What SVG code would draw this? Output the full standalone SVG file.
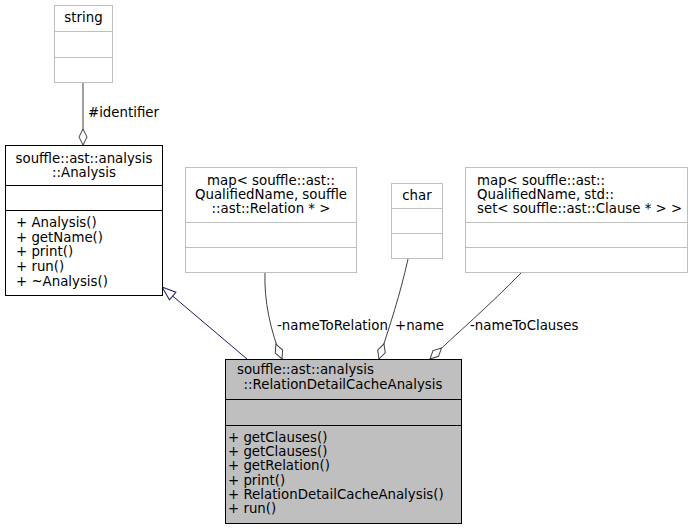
<svg xmlns="http://www.w3.org/2000/svg" width="693" height="529" viewBox="0 0 693 529">
<defs>
<marker id="agg" markerWidth="18" markerHeight="10" refX="17" refY="5" orient="auto" markerUnits="userSpaceOnUse">
<path d="M1,5 L9,1 L17,5 L9,9 Z" fill="#fff" stroke="#404040" stroke-width="1"/>
</marker>
<marker id="inh" markerWidth="16" markerHeight="12" refX="15" refY="6" orient="auto" markerUnits="userSpaceOnUse">
<path d="M1,1 L15,6 L1,11 Z" fill="#fff" stroke="#191970" stroke-width="1"/>
</marker>
<style>
text{font-family:"DejaVu Sans","Liberation Sans",sans-serif;font-size:13.33px;fill:#000}
.ext{fill:#fff;stroke:#bfbfbf;stroke-width:1}
.cls{fill:#fff;stroke:#000;stroke-width:1}
.main{fill:#bfbfbf;stroke:#000;stroke-width:1}
.c{text-anchor:middle}
.e{fill:none;stroke:#404040;stroke-width:1}
</style>
</defs>
<g id="connectors">
<path class="e" d="M83,82 L83,145" marker-end="url(#agg)"/>
<text x="88" y="117">#identifier</text>
<path d="M247,359 L162,287" fill="none" stroke="#191970" stroke-width="1" marker-end="url(#inh)"/>
<path class="e" d="M265,273 C264,300 270,330 282,359" marker-end="url(#agg)"/>
<text x="277" y="330">-nameToRelation</text>
<path class="e" d="M408,259 C400,295 390,325 379,359" marker-end="url(#agg)"/>
<text x="395" y="330">+name</text>
<path class="e" d="M521,273 C490,305 455,335 430,359" marker-end="url(#agg)"/>
<text x="470" y="330">-nameToClauses</text>
</g>
<g id="string">
<rect class="ext" x="54.5" y="5.5" width="58" height="77"/>
<line x1="54.5" y1="31.5" x2="112.5" y2="31.5" stroke="#bfbfbf"/>
<line x1="54.5" y1="57.5" x2="112.5" y2="57.5" stroke="#bfbfbf"/>
<text class="c" x="83.5" y="22">string</text>
</g>
<g id="analysis">
<rect class="cls" x="5.5" y="145.5" width="157" height="150"/>
<line x1="5.5" y1="185.5" x2="162.5" y2="185.5" stroke="#000"/>
<line x1="5.5" y1="210.5" x2="162.5" y2="210.5" stroke="#000"/>
<text class="c" x="84" y="163">souffle::ast::analysis</text>
<text class="c" x="84" y="177">::Analysis</text>
<text x="16" y="227">+ Analysis()</text>
<text x="16" y="242">+ getName()</text>
<text x="16" y="256">+ print()</text>
<text x="16" y="271">+ run()</text>
<text x="16" y="286">+ ~Analysis()</text>
</g>
<g id="mapRelation">
<rect class="ext" x="185.5" y="167.5" width="171" height="105"/>
<line x1="185.5" y1="222.5" x2="356.5" y2="222.5" stroke="#bfbfbf"/>
<line x1="185.5" y1="247.5" x2="356.5" y2="247.5" stroke="#bfbfbf"/>
<text class="c" x="271" y="185">map&lt; souffle::ast::</text>
<text class="c" x="271" y="199">QualifiedName, souffle</text>
<text class="c" x="271" y="213">::ast::Relation * &gt;</text>
</g>
<g id="char">
<rect class="ext" x="391.5" y="183.5" width="51" height="75"/>
<line x1="391.5" y1="208.5" x2="442.5" y2="208.5" stroke="#bfbfbf"/>
<line x1="391.5" y1="233.5" x2="442.5" y2="233.5" stroke="#bfbfbf"/>
<text class="c" x="417" y="200">char</text>
</g>
<g id="mapClauses">
<rect class="ext" x="465.5" y="167.5" width="222" height="105"/>
<line x1="465.5" y1="222.5" x2="687.5" y2="222.5" stroke="#bfbfbf"/>
<line x1="465.5" y1="247.5" x2="687.5" y2="247.5" stroke="#bfbfbf"/>
<text x="477" y="185">map&lt; souffle::ast::</text>
<text x="477" y="199">QualifiedName, std::</text>
<text x="477" y="213">set&lt; souffle::ast::Clause * &gt; &gt;</text>
</g>
<g id="relationDetailCacheAnalysis">
<rect class="main" x="225.5" y="359.5" width="236" height="164"/>
<line x1="225.5" y1="399.5" x2="461.5" y2="399.5" stroke="#000"/>
<line x1="225.5" y1="425.5" x2="461.5" y2="425.5" stroke="#000"/>
<text x="237" y="374">souffle::ast::analysis</text>
<text class="c" x="343" y="389">::RelationDetailCacheAnalysis</text>
<text x="228" y="442">+ getClauses()</text>
<text x="228" y="456">+ getClauses()</text>
<text x="228" y="470">+ getRelation()</text>
<text x="228" y="485">+ print()</text>
<text x="228" y="499">+ RelationDetailCacheAnalysis()</text>
<text x="228" y="513">+ run()</text>
</g>
</svg>
